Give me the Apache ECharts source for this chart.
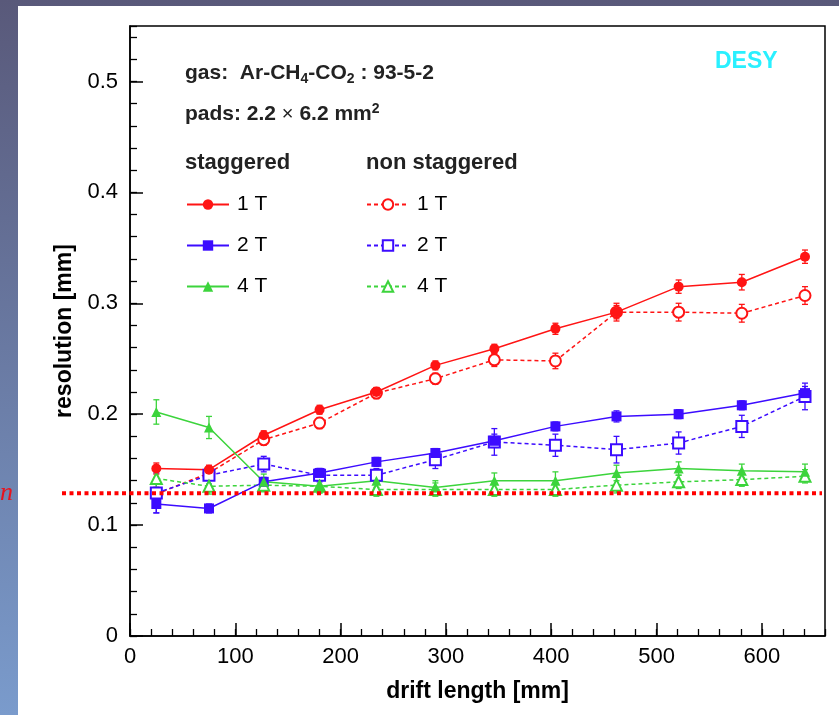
<!DOCTYPE html>
<html>
<head>
<meta charset="utf-8">
<script src="https://cdn.jsdelivr.net/npm/echarts@6/dist/echarts.min.js"></script>
<style>
  html, body { margin: 0; padding: 0; background: #ffffff; }
  #chart { width: 839px; height: 715px; }
</style>
</head>
<body>
<div id="chart"></div>
<script>
// Drift length positions [mm]
const drift = [25, 75, 127, 180, 234, 290, 346, 404, 462, 521, 581, 641];

// Point resolution [mm], staggered pads
const stag1T = [0.151, 0.150, 0.181, 0.204, 0.220, 0.244, 0.259, 0.277, 0.292, 0.315, 0.319, 0.342];
const stag2T = [0.119, 0.115, 0.139, 0.147, 0.157, 0.165, 0.176, 0.189, 0.198, 0.200, 0.208, 0.219];
const stag4T = [0.202, 0.188, 0.139, 0.135, 0.140, 0.134, 0.140, 0.140, 0.147, 0.151, 0.149, 0.148];

// Point resolution [mm], non staggered pads
const non1T = [0.128, 0.147, 0.177, 0.192, 0.219, 0.232, 0.249, 0.248, 0.292, 0.292, 0.291, 0.307];
const non2T = [0.129, 0.145, 0.155, 0.145, 0.145, 0.159, 0.175, 0.172, 0.168, 0.174, 0.189, 0.216];
const non4T = [0.142, 0.135, 0.136, 0.135, 0.132, 0.132, 0.132, 0.132, 0.136, 0.139, 0.141, 0.144];

// Statistical errors [mm]
const errStag1T = [0.005, 0.004, 0.004, 0.004, 0.004, 0.004, 0.004, 0.005, 0.006, 0.006, 0.007, 0.006];
const errStag2T = [0.008, 0.004, 0.004, 0.004, 0.004, 0.004, 0.006, 0.004, 0.005, 0.004, 0.004, 0.006];
const errStag4T = [0.011, 0.010, 0.007, 0.006, 0.006, 0.006, 0.007, 0.008, 0.007, 0.006, 0.006, 0.007];
const errNon1T = [0.006, 0.005, 0.005, 0.005, 0.005, 0.005, 0.006, 0.007, 0.008, 0.008, 0.008, 0.008];
const errNon2T = [0.018, 0.008, 0.007, 0.006, 0.006, 0.008, 0.012, 0.010, 0.012, 0.010, 0.010, 0.012];
const errNon4T = [0.008, 0.007, 0.006, 0.006, 0.006, 0.006, 0.006, 0.006, 0.007, 0.006, 0.006, 0.006];

// Axis ticks
const xTicks = [0, 100, 200, 300, 400, 500, 600];
const yTicks = [0, 0.1, 0.2, 0.3, 0.4, 0.5];

// Target resolution line [mm]
const targetRes = 0.1288;

const RED = '#ff1414';
const BLUE = '#3c0cff';
const GREEN = '#3cd43c';
const FONT = '"Liberation Sans", Arial, Helvetica, sans-serif';

const chart = echarts.init(document.getElementById('chart'), null, { renderer: 'canvas' });

function pairs(ys, errs) {
  return ys.map((y, i) => [drift[i], y, errs[i]]);
}

function lineSeries(name, ys, errs, color, symbol, dashed) {
  return {
    name: name,
    type: 'line',
    data: pairs(ys, errs),
    encode: { x: 0, y: 1 },
    symbol: symbol,
    symbolSize: dashed ? 11 : 10,
    showSymbol: true,
    color: color,
    lineStyle: { color: color, width: 1.5, type: dashed ? [4, 3] : 'solid' },
    itemStyle: { color: color, borderColor: color, borderWidth: dashed ? 1.5 : 0 },
    z: 3
  };
}

function errorSeries(ys, errs, color) {
  return {
    type: 'custom',
    data: pairs(ys, errs),
    encode: { x: 0, y: 1 },
    silent: true,
    z: 2,
    renderItem: function (params, api) {
      const x = api.value(0), y = api.value(1), e = api.value(2);
      const top = api.coord([x, y + e]);
      const bot = api.coord([x, y - e]);
      const hw = 3;
      const st = { stroke: color, lineWidth: 1.3 };
      return {
        type: 'group',
        children: [
          { type: 'line', shape: { x1: top[0], y1: top[1], x2: bot[0], y2: bot[1] }, style: st },
          { type: 'line', shape: { x1: top[0] - hw, y1: top[1], x2: top[0] + hw, y2: top[1] }, style: st },
          { type: 'line', shape: { x1: bot[0] - hw, y1: bot[1], x2: bot[0] + hw, y2: bot[1] }, style: st }
        ]
      };
    }
  };
}

const legendCommon = {
  orient: 'vertical',
  itemWidth: 42,
  itemHeight: 13,
  itemGap: 20,
  selectedMode: false,
  textStyle: { fontSize: 21, color: '#000', fontFamily: FONT, padding: [0, 0, 0, 3] },
  formatter: function (name) { return name.replace(/^\S+ /, ''); }
};

const option = {
  animation: false,
  backgroundColor: 'transparent',
  textStyle: { fontFamily: FONT },
  grid: {
    left: 130, top: 26, right: 14, bottom: 79,
    show: true, borderColor: '#000', borderWidth: 1.5, backgroundColor: 'transparent'
  },
  legend: [
    Object.assign({ left: 181, top: 189, data: ['staggered 1 T', 'staggered 2 T', 'staggered 4 T'] }, legendCommon),
    Object.assign({ left: 361, top: 189, data: ['non-staggered 1 T', 'non-staggered 2 T', 'non-staggered 4 T'] }, legendCommon)
  ],
  xAxis: [
    {
      type: 'value', min: 0, max: 660,
      name: 'drift length [mm]', nameLocation: 'middle', nameGap: 44,
      nameTextStyle: { fontSize: 23, fontWeight: 'bold', color: '#000', fontFamily: FONT },
      axisLine: { lineStyle: { color: '#000', width: 1.5 } },
      axisTick: { inside: true, length: 13, customValues: xTicks, lineStyle: { color: '#000', width: 1.5 } },
      axisLabel: { customValues: xTicks, fontSize: 22, color: '#000', margin: 10, fontFamily: FONT },
      splitLine: { show: false }
    },
    {
      type: 'value', min: 0, max: 660, interval: 20, position: 'bottom',
      axisLine: { show: false },
      axisTick: { inside: true, length: 7, lineStyle: { color: '#000', width: 1.3 } },
      axisLabel: { show: false },
      splitLine: { show: false }
    }
  ],
  yAxis: [
    {
      type: 'value', min: 0, max: 0.55,
      name: 'resolution [mm]', nameLocation: 'middle', nameGap: 52,
      nameTextStyle: { fontSize: 23, fontWeight: 'bold', color: '#000', fontFamily: FONT },
      axisLine: { lineStyle: { color: '#000', width: 1.5 } },
      axisTick: { inside: true, length: 13, customValues: yTicks, lineStyle: { color: '#000', width: 1.5 } },
      axisLabel: { customValues: yTicks, fontSize: 22, color: '#000', margin: 12, fontFamily: FONT },
      splitLine: { show: false }
    },
    {
      type: 'value', min: 0, max: 0.55, interval: 0.02, position: 'left',
      axisLine: { show: false },
      axisTick: { inside: true, length: 7, lineStyle: { color: '#000', width: 1.3 } },
      axisLabel: { show: false },
      splitLine: { show: false }
    }
  ],
  series: [
    errorSeries(non1T, errNon1T, RED),
    errorSeries(non2T, errNon2T, BLUE),
    errorSeries(non4T, errNon4T, GREEN),
    errorSeries(stag1T, errStag1T, RED),
    errorSeries(stag2T, errStag2T, BLUE),
    errorSeries(stag4T, errStag4T, GREEN),
    lineSeries('non-staggered 1 T', non1T, errNon1T, RED, 'emptyCircle', true),
    lineSeries('non-staggered 2 T', non2T, errNon2T, BLUE, 'emptyRect', true),
    lineSeries('non-staggered 4 T', non4T, errNon4T, GREEN, 'emptyTriangle', true),
    lineSeries('staggered 1 T', stag1T, errStag1T, RED, 'circle', false),
    lineSeries('staggered 2 T', stag2T, errStag2T, BLUE, 'rect', false),
    lineSeries('staggered 4 T', stag4T, errStag4T, GREEN, 'triangle', false)
  ]
};

chart.setOption(option);

// Slide backdrop, annotations and the target-resolution line
const yLine = chart.convertToPixel({ yAxisIndex: 0 }, targetRes);
const xEnd = chart.convertToPixel({ xAxisIndex: 0 }, 660);

chart.setOption({
  graphic: [
    {
      type: 'rect', z: -20, silent: true,
      shape: { x: 0, y: 0, width: 839, height: 715 },
      style: {
        fill: new echarts.graphic.LinearGradient(0, 0, 0, 1, [
          { offset: 0, color: '#59597a' },
          { offset: 1, color: '#7a9bcc' }
        ])
      }
    },
    {
      type: 'rect', z: -19, silent: true,
      shape: { x: 18, y: 6, width: 821, height: 709 },
      style: { fill: '#ffffff' }
    },
    {
      type: 'text', z: 10, silent: true,
      style: {
        x: 0, y: yLine, text: 'n', verticalAlign: 'middle',
        font: 'italic 26px "Liberation Serif", serif', fill: '#e8141e'
      }
    },
    {
      type: 'line', z: 50, silent: true,
      shape: { x1: 62, y1: yLine, x2: xEnd - 3, y2: yLine },
      style: { stroke: '#ff0000', lineWidth: 4, lineDash: [4, 3.5] }
    },
    {
      type: 'text', z: 10, silent: true,
      style: {
        x: 185, y: 73, verticalAlign: 'middle',
        text: '{b|gas:  Ar-CH}{s|4}{b|-CO}{s|2}{b| : 93-5-2}',
        rich: {
          b: { fontSize: 21, fontWeight: 'bold', fontFamily: FONT, fill: '#222' },
          s: { fontSize: 14, fontWeight: 'bold', fontFamily: FONT, fill: '#222', verticalAlign: 'bottom', padding: [12, 0, 0, 0] }
        }
      }
    },
    {
      type: 'text', z: 10, silent: true,
      style: {
        x: 185, y: 114, verticalAlign: 'middle',
        text: '{b|pads: 2.2 }{x|×}{b| 6.2 mm}{p|2}',
        rich: {
          b: { fontSize: 21, fontWeight: 'bold', fontFamily: FONT, fill: '#222' },
          x: { fontSize: 20, fontFamily: FONT, fill: '#222' },
          p: { fontSize: 14, fontWeight: 'bold', fontFamily: FONT, fill: '#222', verticalAlign: 'top', padding: [0, 0, 10, 0] }
        }
      }
    },
    {
      type: 'text', z: 10, silent: true,
      style: { x: 185, y: 163, verticalAlign: 'middle', text: 'staggered', font: 'bold 22px ' + FONT, fill: '#222' }
    },
    {
      type: 'text', z: 10, silent: true,
      style: { x: 366, y: 163, verticalAlign: 'middle', text: 'non staggered', font: 'bold 22px ' + FONT, fill: '#222' }
    },
    {
      type: 'text', z: 10, silent: true,
      style: { x: 715, y: 62, verticalAlign: 'middle', text: 'DESY', font: 'bold 23px ' + FONT, fill: '#2af0ff' }
    }
  ]
});
</script>
</body>
</html>
